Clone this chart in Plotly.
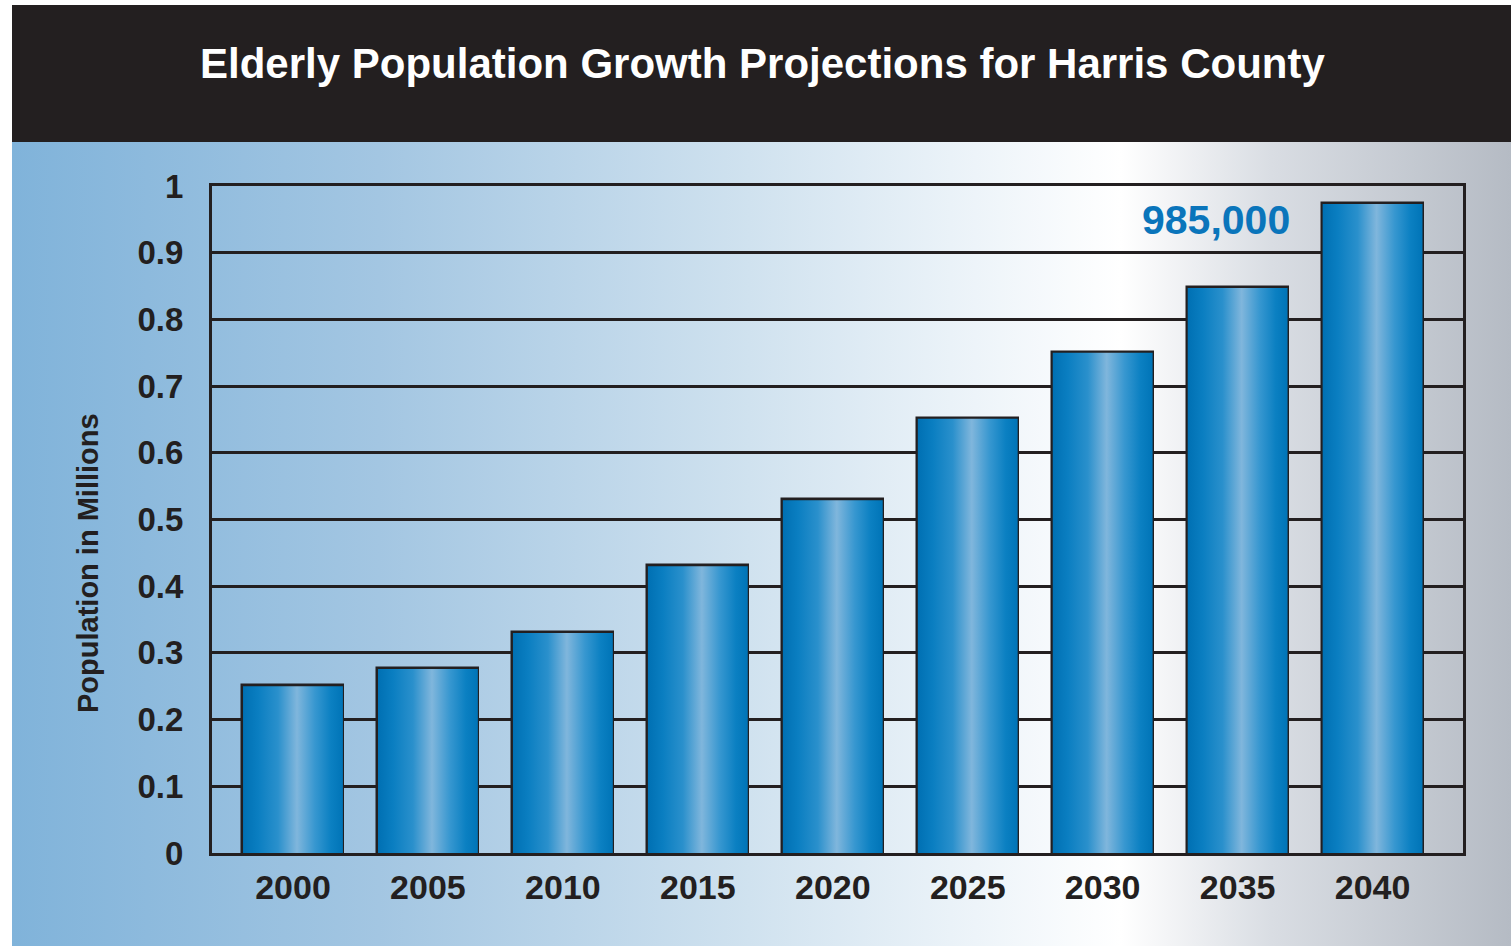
import plotly.graph_objects as go

years = ["2000", "2005", "2010", "2015", "2020", "2025", "2030", "2035", "2040"]
population_millions = [0.25, 0.276, 0.33, 0.43, 0.529, 0.651, 0.75, 0.847, 0.973]
y_ticks = [0, 0.1, 0.2, 0.3, 0.4, 0.5, 0.6, 0.7, 0.8, 0.9, 1]
y_tick_text = ["0", "0.1", "0.2", "0.3", "0.4", "0.5", "0.6", "0.7", "0.8", "0.9", "1"]
title_text = "Elderly Population Growth Projections for Harris County"
callout_text = "985,000"
y_title = "Population in Millions"

W, H = 1511, 946
DARK = "#231f20"
FONT = "Liberation Sans"
bar_w = 0.74

bar_scale = [[0, "#0070b3"], [0.15, "#0a7ec1"], [0.35, "#2a90cc"], [0.54, "#80b6dc"],
             [0.72, "#3797d0"], [0.88, "#0b80c2"], [1, "#0074b7"]]
bg_scale = [[0, "#80b3da"], [0.245, "#a3c6e2"], [0.492, "#d0e2ef"], [0.626, "#eaf2f8"],
            [0.74, "#ffffff"], [0.84, "#d9dde3"], [1, "#b5bbc4"]]

fig = go.Figure()

# background gradient panel (subplot xy, hidden axes in paper-like units)
bx0 = 12 / W
by1 = (H - 142) / H
fig.add_trace(go.Scatter(
    x=[bx0, 1, 1, bx0, bx0], y=[0, 0, by1, by1, 0], mode="lines",
    line=dict(width=0), fill="toself",
    fillgradient=dict(type="horizontal", colorscale=bg_scale, start=bx0, stop=1),
    hoverinfo="skip", showlegend=False, xaxis="x", yaxis="y"))

# gradient bar fills
for i, v in enumerate(population_millions):
    x0, x1 = i - bar_w / 2, i + bar_w / 2
    fig.add_trace(go.Scatter(
        x=[x0, x1, x1, x0, x0], y=[0, 0, v, v, 0], mode="lines",
        line=dict(width=0), fill="toself",
        fillgradient=dict(type="horizontal", colorscale=bar_scale, start=x0, stop=x1),
        hoverinfo="skip", showlegend=False, xaxis="x2", yaxis="y2"))

# bar outlines
fig.add_trace(go.Bar(
    x=list(range(len(years))), y=population_millions, width=bar_w,
    marker=dict(color="rgba(0,0,0,0)", line=dict(color=DARK, width=3.5)),
    showlegend=False, xaxis="x2", yaxis="y2"))

fig.update_layout(
    width=W, height=H, autosize=False,
    margin=dict(l=0, r=0, t=0, b=0, pad=0, autoexpand=False),
    paper_bgcolor="white", plot_bgcolor="rgba(0,0,0,0)",
    xaxis=dict(domain=[0, 1], range=[0, 1], visible=False, fixedrange=True, automargin=False),
    yaxis=dict(domain=[0, 1], range=[0, 1], visible=False, fixedrange=True, automargin=False),
    xaxis2=dict(domain=[212 / W, 1463 / W], range=[-0.6, 8.67], anchor="y2",
                automargin=False,
                tickmode="array", tickvals=list(range(len(years))), ticktext=years,
                showgrid=False, showline=True, mirror=True, linecolor=DARK, linewidth=3,
                ticks="outside", ticklen=2, tickcolor="rgba(0,0,0,0)",
                tickfont=dict(family=FONT, size=34, color=DARK, weight="bold"),
                zeroline=False),
    yaxis2=dict(domain=[(H - 853) / H, (H - 186) / H], range=[0, 1], anchor="x2",
                automargin=False,
                tickmode="array", tickvals=y_ticks, ticktext=y_tick_text,
                showgrid=True, gridcolor=DARK, gridwidth=2.5,
                showline=True, mirror=True, linecolor=DARK, linewidth=3,
                ticks="outside", ticklen=19, tickcolor="rgba(0,0,0,0)",
                tickfont=dict(family=FONT, size=33, color=DARK, weight="bold"),
                zeroline=False),
    bargap=0,
    shapes=[dict(type="rect", xref="paper", yref="paper", x0=bx0, x1=1,
                 y0=by1, y1=(H - 5) / H, fillcolor=DARK, line=dict(width=0), layer="above")],
    annotations=[
        dict(text="<b>" + title_text + "</b>", xref="paper", yref="paper",
             x=763 / W, y=(H - 64) / H,
             xanchor="center", yanchor="middle", showarrow=False,
             font=dict(family=FONT, size=42, color="white")),
        dict(text="<b>" + y_title + "</b>", xref="paper", yref="paper",
             x=88 / W, y=(H - 563) / H, textangle=-90,
             xanchor="center", yanchor="middle", showarrow=False,
             font=dict(family=FONT, size=29, color=DARK)),
        dict(text="<b>" + callout_text + "</b>", xref="x2", yref="y2", x=6.84, y=0.949,
             xanchor="center", yanchor="middle", showarrow=False,
             font=dict(family=FONT, size=41, color="#0a75bb")),
    ],
)

fig.write_html("out.html", post_script="document.body.style.margin='0';",
               config={"displayModeBar": False})
